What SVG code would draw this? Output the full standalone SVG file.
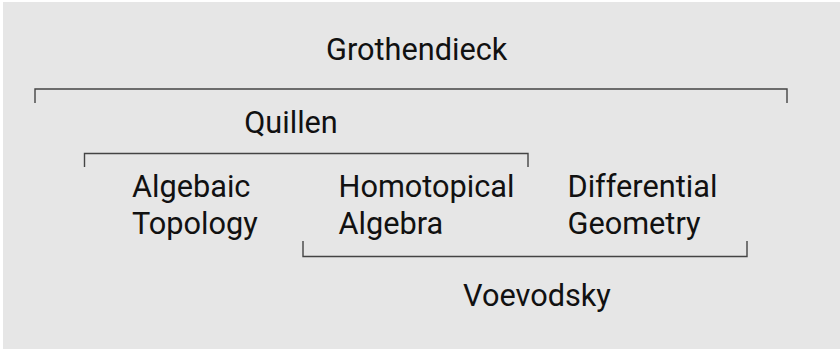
<svg xmlns="http://www.w3.org/2000/svg" width="840" height="349" viewBox="0 0 840 349">
<style>
.lbl{font-family:Roboto,"Liberation Sans",sans-serif;font-size:30.7px;fill:#111;}
.br{fill:none;stroke:#444;stroke-width:1.4;}
</style>
<rect x="0" y="0" width="840" height="349" fill="#ffffff"/>
<rect x="3" y="2" width="837" height="347" fill="#e6e6e6"/>
<g id="connectors">
<path class="br" d="M35,103 V89 H787 V103"/>
<path class="br" d="M84.5,167 V153.5 H528 V167"/>
<path class="br" d="M303,241 V256.5 H747 V241"/>
</g>
<g id="grothendieck"><text class="lbl" x="416.7" y="60" text-anchor="middle">Grothendieck</text></g>
<g id="quillen"><text class="lbl" x="291" y="132.5" text-anchor="middle">Quillen</text></g>
<g id="algebraic-topology"><text class="lbl" x="132" y="197">Algebaic</text><text class="lbl" x="132" y="234">Topology</text></g>
<g id="homotopical-algebra"><text class="lbl" x="338.5" y="197">Homotopical</text><text class="lbl" x="338.5" y="234">Algebra</text></g>
<g id="differential-geometry"><text class="lbl" x="567.5" y="197">Differential</text><text class="lbl" x="567.5" y="234">Geometry</text></g>
<g id="voevodsky"><text class="lbl" x="537" y="305.5" text-anchor="middle">Voevodsky</text></g>
</svg>
